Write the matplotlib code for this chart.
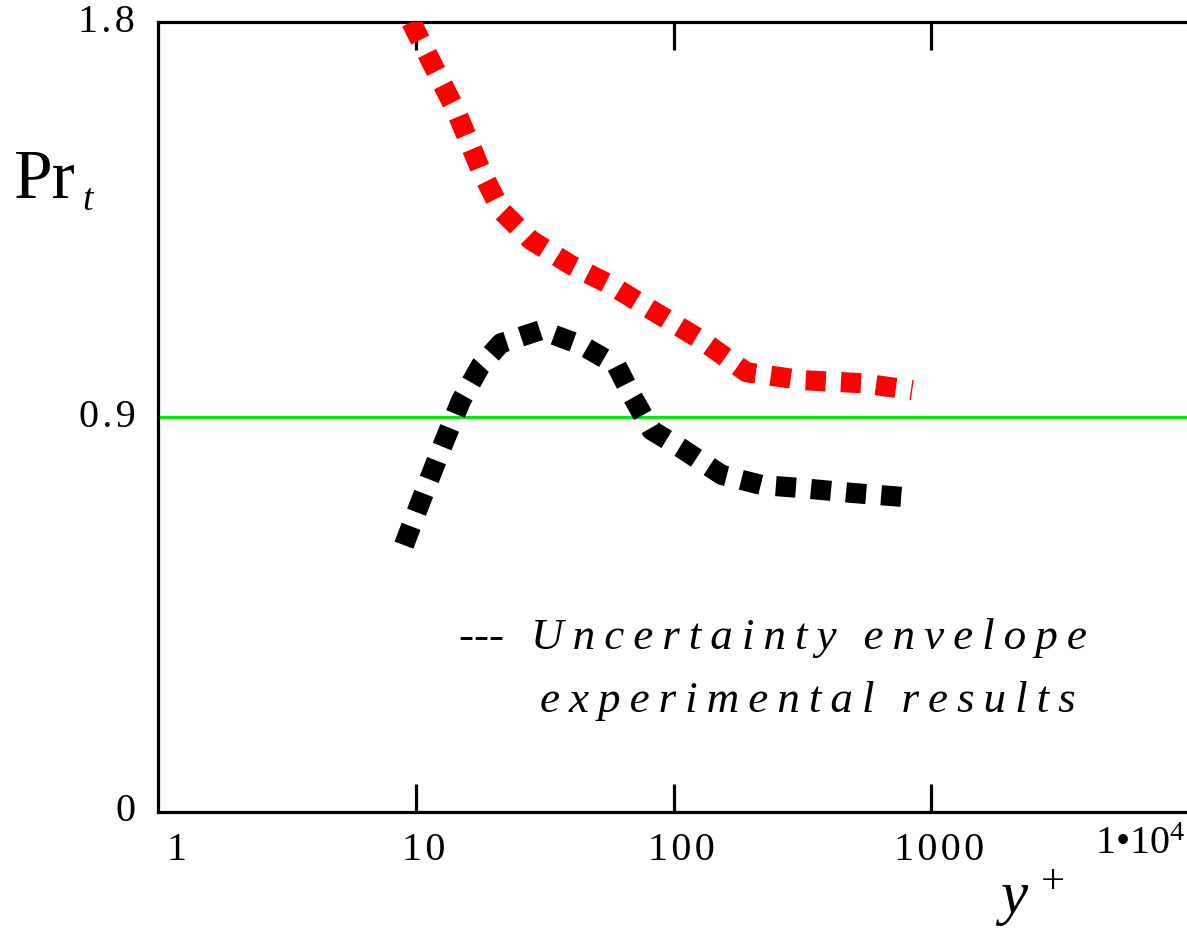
import matplotlib.pyplot as plt
import numpy as np

plt.rcParams['font.family'] = ['Liberation Serif', 'DejaVu Serif']
plt.rcParams['mathtext.fontset'] = 'custom'
plt.rcParams['mathtext.rm'] = 'Liberation Serif'
plt.rcParams['mathtext.it'] = 'Liberation Serif:italic'

# upper bound of the uncertainty envelope
red_x = [9.6, 11.4, 14.3, 17.9, 21.4, 28.0, 40.1, 57.4, 82.1, 128.5, 192, 315, 539, 844]
red_y = [1.80, 1.713, 1.599, 1.462, 1.371, 1.303, 1.246, 1.200, 1.144, 1.075, 1.002, 0.984, 0.977, 0.961]

# lower bound of the uncertainty envelope
black_x = [9.0, 10.5, 12.5, 15.0, 17.9, 21.4, 30.6, 43.9, 60.0, 68.7, 82.1, 107, 154, 220, 315, 493, 772]
black_y = [0.608, 0.711, 0.825, 0.938, 1.018, 1.068, 1.098, 1.064, 1.018, 0.950, 0.870, 0.829,
           0.768, 0.745, 0.738, 0.727, 0.718]

pr_const = 0.9

xtick_vals = [1, 10, 100, 1000, 1e4]
xtick_labels = ['1', '10', '100', '1000', '1\u202210$^{\\mathregular{4}}$']
ytick_vals = [0, 0.9, 1.8]
ytick_labels = ['0', '0.9', '1.8']

fig = plt.figure(figsize=(11.87, 9.33), dpi=100)
ax = fig.add_axes([0.1331, 0.1297, 0.8686, 0.8467])
ax.set_xscale('log')
ax.set_xlim(1, 1e4)
ax.set_ylim(0, 1.8)

ax.axhline(pr_const, color='#00ee00', linewidth=2.2, zorder=1)
ax.plot(red_x, red_y, color='red', linewidth=14.5, dashes=(1.0, 0.75),
        dash_capstyle='butt', solid_joinstyle='miter', zorder=3)
ax.plot(black_x, black_y, color='black', linewidth=14.5, dashes=(1.0, 0.75),
        dash_capstyle='butt', solid_joinstyle='miter', zorder=3)

# axes frame
ax.spines['right'].set_visible(False)
for s in ['left', 'bottom', 'top']:
    ax.spines[s].set_linewidth(2.3)
    ax.spines[s].set_color('black')

ax.set_xticks([10, 100, 1000])
ax.xaxis.set_minor_locator(plt.NullLocator())
ax.set_xticklabels([])
ax.tick_params(axis='x', which='major', direction='in', length=20, width=2.3,
               top=True, bottom=True, labelbottom=False)
ax.set_yticks([])

# tick labels
hs = '\u200a'
trans = ax.get_xaxis_transform()
for i, (v, lab) in enumerate(zip(xtick_vals, xtick_labels)):
    if i == len(xtick_vals) - 1:
        ax.text(v * 0.97, -0.018, lab, transform=trans, ha='right', va='top', fontsize=29)
    elif i == 0:
        ax.text(v * 1.08, -0.025, lab, transform=trans, ha='left', va='top', fontsize=29)
    else:
        ax.text(v * 1.07, -0.025, hs.join(lab), transform=trans, ha='center', va='top', fontsize=29)

ytrans = ax.get_yaxis_transform()
for v, lab in zip(ytick_vals, ytick_labels):
    ax.text(-0.022, v, hs.join(lab), transform=ytrans, ha='right', va='center', fontsize=29)

# axis titles
fig.text(0.012, 0.788, 'Pr', fontsize=50, ha='left', va='baseline')
fig.text(0.069, 0.775, 't', fontsize=27, style='italic', ha='left', va='baseline')
fig.text(0.838, 0.02, r'$y^{\,+}$', fontsize=44, ha='left', va='baseline')

# legend-like annotation
sp = '\u2009'
fig.text(0.387, 0.316, '---' + sp * 3 + sp.join('Uncertainty') + sp * 3 + sp.join('envelope'),
         fontsize=32.5, style='italic', ha='left', va='center')
fig.text(0.455, 0.249, sp.join('experimental') + sp * 3 + sp.join('results'),
         fontsize=32.5, style='italic', ha='left', va='center')

fig.savefig('out.png', dpi=100)
